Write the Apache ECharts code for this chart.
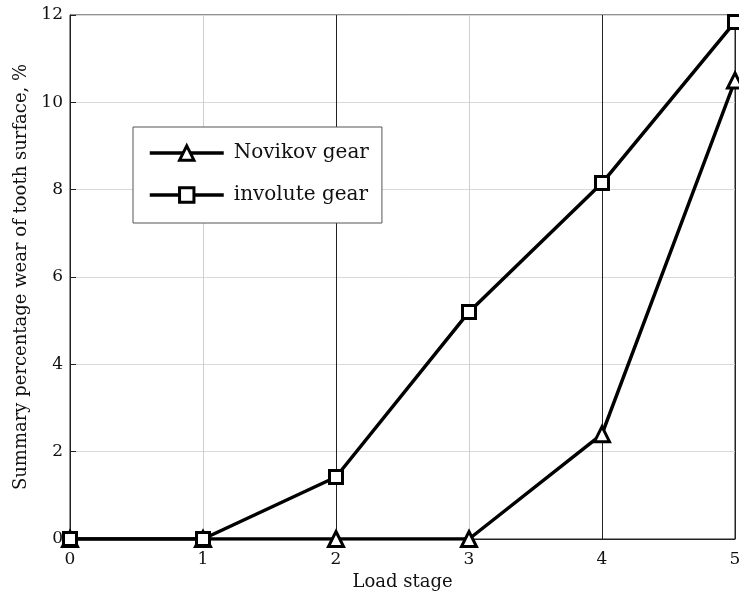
<!DOCTYPE html>
<html><head><meta charset="utf-8">
<script src="https://cdn.jsdelivr.net/npm/echarts@6/dist/echarts.min.js"></script>
<style>html,body{margin:0;padding:0;background:#fff}#c{width:739px;height:601px}</style>
</head><body><div id="c"></div>
<script>
const loadStages = [0, 1, 2, 3, 4, 5];
const novikov = [0, 0, 0, 0, 2.4, 10.5];
const involute = [0, 0, 1.42, 5.2, 8.15, 11.84];
const xTicks = [0, 1, 2, 3, 4, 5];
const yTicks = [0, 2, 4, 6, 8, 10, 12];
const FONT = '"DejaVu Serif", "Liberation Serif", serif';
const chart = echarts.init(document.getElementById('c'), null, {renderer: 'canvas'});
function pairs(xs, ys) { return xs.map((x, i) => [x, ys[i]]); }
chart.setOption({
  animation: false,
  backgroundColor: '#fff',
  grid: {left: 70, right: 4, top: 15, bottom: 62, outerBoundsMode: 'none', containLabel: false,
         show: true, borderColor: '#222', borderWidth: 1, backgroundColor: 'transparent'},
  legend: {
    left: 133, top: 127, orient: 'vertical', padding: [16, 13, 18, 15],
    backgroundColor: '#fff', borderColor: '#555', borderWidth: 1,
    itemWidth: 74, itemHeight: 18, itemGap: 22,
    lineStyle: {width: 3.5, color: '#000'},
    itemStyle: {borderWidth: 3, borderColor: '#000', color: '#fff'},
    textStyle: {fontFamily: FONT, fontSize: 20, lineHeight: 20, color: '#111', padding: [0, 0, 0, 5]},
    data: ['Novikov gear', 'involute gear']
  },
  xAxis: {
    type: 'value', min: 0, max: 5, interval: 1,
    name: 'Load stage', nameLocation: 'middle', nameGap: 33,
    nameTextStyle: {fontFamily: FONT, fontSize: 18, color: '#111'},
    axisLine: {onZero: false, lineStyle: {color: '#222', width: 1}},
    axisTick: {show: true, inside: true, length: 6, lineStyle: {color: '#222'}},
    axisLabel: {fontFamily: FONT, fontSize: 17, color: '#111', margin: 12,
      formatter: v => xTicks.includes(v) ? String(v) : ''},
    splitLine: {show: true, lineStyle: {color: ['#d0d0d0', '#cfcfcf', '#222', '#cfcfcf', '#222', '#222'], width: 1}}
  },
  yAxis: {
    type: 'value', min: 0, max: 12, interval: 2,
    name: 'Summary percentage wear of tooth surface, %', nameLocation: 'middle', nameGap: 40,
    nameTextStyle: {fontFamily: FONT, fontSize: 18, color: '#111'},
    axisLine: {onZero: false, lineStyle: {color: '#222', width: 1}},
    axisTick: {show: true, inside: true, length: 6, lineStyle: {color: '#222'}},
    axisLabel: {fontFamily: FONT, fontSize: 17, color: '#111', margin: 7,
      formatter: v => yTicks.includes(v) ? String(v) : ''},
    splitLine: {show: true, lineStyle: {color: '#d9d9d9', width: 1}}
  },
  series: [
    {name: 'Novikov gear', type: 'line', data: pairs(loadStages, novikov),
     symbol: 'triangle', symbolSize: 15, showAllSymbol: true,
     lineStyle: {color: '#000', width: 3.5},
     itemStyle: {color: '#fff', borderColor: '#000', borderWidth: 3}, z: 3},
    {name: 'involute gear', type: 'line', data: pairs(loadStages, involute),
     symbol: 'rect', symbolSize: 13, showAllSymbol: true,
     lineStyle: {color: '#000', width: 3.5},
     itemStyle: {color: '#fff', borderColor: '#000', borderWidth: 3}, z: 4}
  ]
});
</script></body></html>
